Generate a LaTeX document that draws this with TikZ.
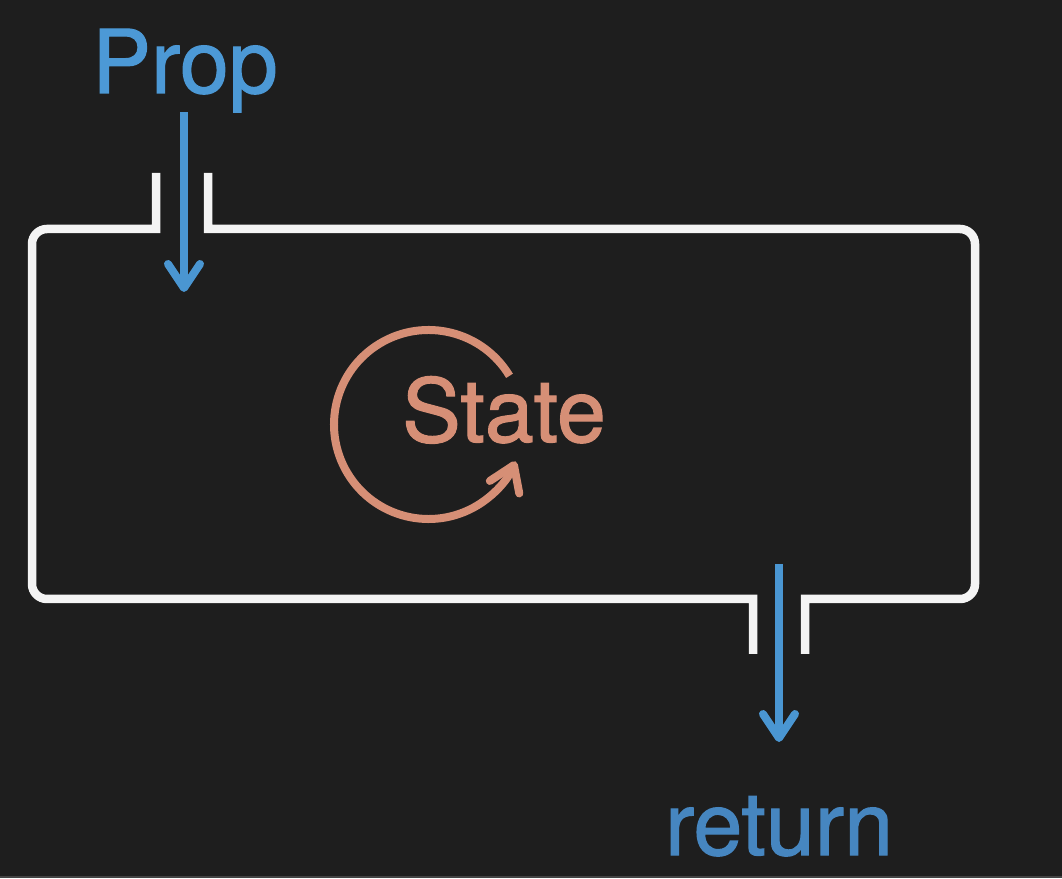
\documentclass[tikz,border=0pt]{standalone}
\usepackage{fontspec}
\setmainfont{TeX Gyre Heros}
\newfontfamily\wordfont{TeX Gyre Heros}[FakeBold=1.3]
\usetikzlibrary{arrows.meta}
\definecolor{bg}{RGB}{30,30,30}
\definecolor{strip}{RGB}{68,68,68}
\definecolor{propblue}{RGB}{76,153,214}
\definecolor{retblue}{RGB}{70,134,192}
\definecolor{flowblue}{RGB}{74,150,210}
\definecolor{statecol}{RGB}{214,143,118}
\definecolor{wallwhite}{RGB}{244,244,244}
\begin{document}
\begin{tikzpicture}[x=1pt, y=1pt,
  flow/.style={flowblue, line width=8pt, -{Straight Barb[length=24pt,width=32pt,round]}},
  wall/.style={wallwhite, line width=8.5pt},
  word/.style={inner sep=0pt, anchor=base, font=\wordfont\fontsize{88}{100}\selectfont}]
\fill[bg] (0,0) rectangle (1062,878);
\fill[strip] (0,0) rectangle (1062,2);
\useasboundingbox (0,0) rectangle (1062,878);
% component with its two ports
\draw[wall] (156,705) -- (156,649) [rounded corners=15pt] -- (32,649) -- (32,279)
  [sharp corners] -- (753,279) -- (753,224);
\draw[wall] (805,224) -- (805,279) [rounded corners=15pt] -- (975,279) -- (975,649)
  [sharp corners] -- (208,649) -- (208,705);
\node[word, text=propblue] (prop) at (185,785) {Prop};
\node[word, text=statecol] (state) at (504,436) {State};
\node[word, text=retblue] (ret) at (779,23) {return};
\coordinate (propin) at (184,586);
\coordinate (retout) at (779,314);
\coordinate (loop) at (428.5,453.5);
\draw[flow] (prop.south -| propin) -- (propin);
\draw[flow, shorten >=54pt] (retout) -- (ret.north);
% state loops back on itself
\draw[flow, statecol] ([shift={(31:94.5)}]loop) arc[start angle=31, end angle=337, radius=94.5];
\end{tikzpicture}
\end{document}
